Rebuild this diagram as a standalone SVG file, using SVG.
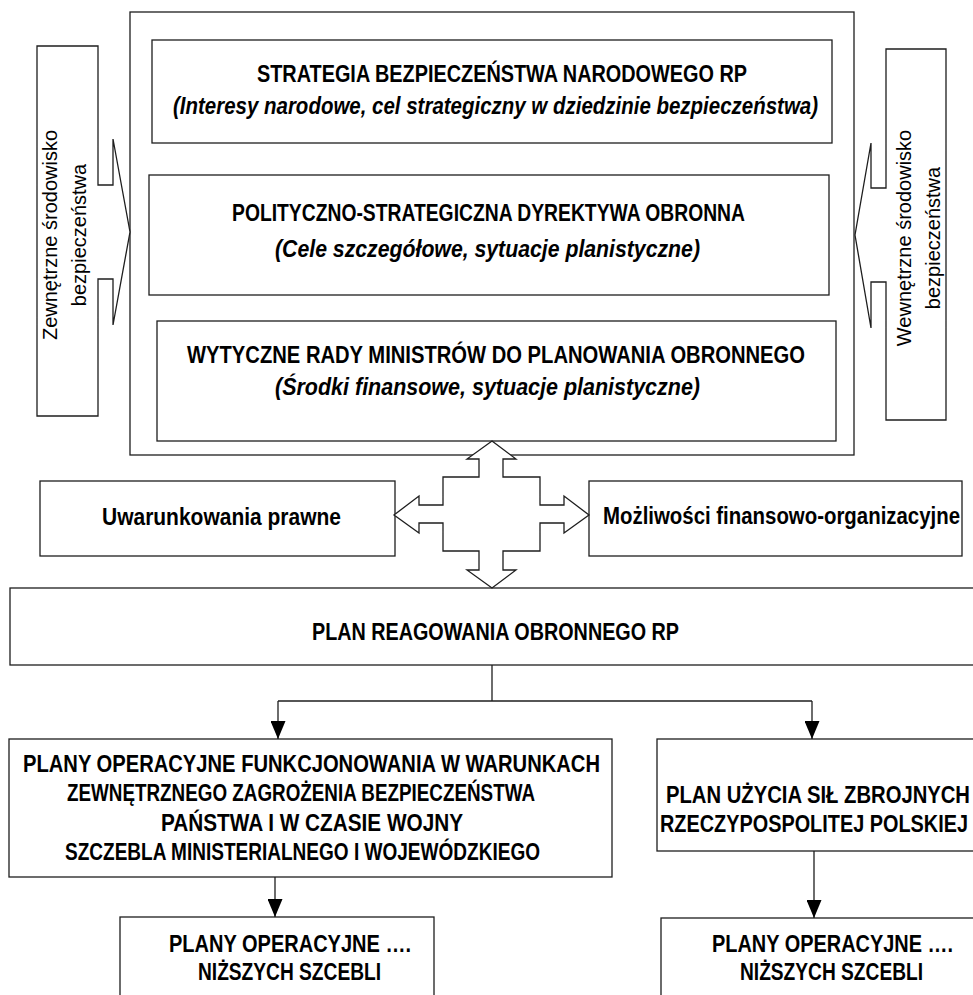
<svg xmlns="http://www.w3.org/2000/svg" width="973" height="995" viewBox="0 0 973 995">
<defs>
<style>
.b{fill:#fff;stroke:#1e1e1e;stroke-width:1.3}
.c{fill:none;stroke:#1e1e1e;stroke-width:1.3}
.t{font-family:"Liberation Sans",Arial,sans-serif;font-weight:bold;font-size:23px;fill:#000}
.i{font-style:italic}
.s{font-family:"Liberation Sans",Arial,sans-serif;font-size:20px;fill:#000;text-anchor:middle}
</style>
<marker id="ah" viewBox="0 0 18 15" refX="18" refY="7.5" markerWidth="18" markerHeight="15" markerUnits="userSpaceOnUse" orient="auto">
<path d="M0,0 L18,7.5 L0,15 Z" fill="#000"/>
</marker>
</defs>
<rect width="973" height="995" fill="#fff"/>

<g id="outer"><rect class="b" x="130" y="12" width="724" height="443"/></g>

<g id="strategia">
<rect class="b" x="152" y="40" width="680" height="103"/>
<text class="t" x="257" y="82" textLength="490" lengthAdjust="spacingAndGlyphs">STRATEGIA BEZPIECZEŃSTWA NARODOWEGO RP</text>
<text class="t i" x="173" y="114" textLength="645" lengthAdjust="spacingAndGlyphs">(Interesy narodowe, cel strategiczny w dziedzinie bezpieczeństwa)</text>
</g>

<g id="dyrektywa">
<rect class="b" x="149" y="175" width="680" height="120"/>
<text class="t" x="232" y="221" textLength="513" lengthAdjust="spacingAndGlyphs">POLITYCZNO-STRATEGICZNA DYREKTYWA OBRONNA</text>
<text class="t i" x="275" y="257" textLength="425" lengthAdjust="spacingAndGlyphs">(Cele szczegółowe, sytuacje planistyczne)</text>
</g>

<g id="wytyczne">
<rect class="b" x="157" y="321" width="679" height="120"/>
<text class="t" x="187" y="363" textLength="618" lengthAdjust="spacingAndGlyphs">WYTYCZNE RADY MINISTRÓW DO PLANOWANIA OBRONNEGO</text>
<text class="t i" x="275" y="395" textLength="425" lengthAdjust="spacingAndGlyphs">(Środki finansowe, sytuacje planistyczne)</text>
</g>

<g id="zewnetrzne">
<path class="b" d="M37,46 H98 V185 H113 V139 L130,232 L113,325 V279 H98 V416 H37 Z"/>
<text class="s" transform="translate(57,235) rotate(-90)">Zewnętrzne środowisko</text>
<text class="s" transform="translate(86,235) rotate(-90)">bezpieczeństwa</text>
</g>

<g id="wewnetrzne">
<path class="b" d="M946,49 H886 V188 H871 V143 L855,235 L871,328 V282 H886 V420 H946 Z"/>
<text class="s" transform="translate(911,238) rotate(-90)">Wewnętrzne środowisko</text>
<text class="s" transform="translate(940,238) rotate(-90)">bezpieczeństwa</text>
</g>

<g id="uwarunkowania">
<rect class="b" x="40" y="481" width="355" height="75"/>
<text class="t" x="102" y="525" textLength="239" lengthAdjust="spacingAndGlyphs">Uwarunkowania prawne</text>
</g>

<g id="mozliwosci">
<rect class="b" x="589" y="481" width="373" height="75"/>
<text class="t" x="603" y="524" textLength="357" lengthAdjust="spacingAndGlyphs">Możliwości finansowo-organizacyjne</text>
</g>

<g id="plan-reagowania">
<rect class="b" x="10" y="588" width="975" height="77"/>
<text class="t" x="312" y="640" textLength="367" lengthAdjust="spacingAndGlyphs">PLAN REAGOWANIA OBRONNEGO RP</text>
</g>

<g id="plany-operacyjne">
<rect class="b" x="9" y="739" width="603" height="138"/>
<text class="t" x="23" y="772" textLength="577" lengthAdjust="spacingAndGlyphs">PLANY OPERACYJNE FUNKCJONOWANIA W WARUNKACH</text>
<text class="t" x="67" y="801" textLength="468" lengthAdjust="spacingAndGlyphs">ZEWNĘTRZNEGO ZAGROŻENIA BEZPIECZEŃSTWA</text>
<text class="t" x="161" y="831" textLength="302" lengthAdjust="spacingAndGlyphs">PAŃSTWA I W CZASIE WOJNY</text>
<text class="t" x="65" y="860" textLength="475" lengthAdjust="spacingAndGlyphs">SZCZEBLA MINISTERIALNEGO I WOJEWÓDZKIEGO</text>
</g>

<g id="plan-uzycia">
<rect class="b" x="657" y="739" width="330" height="112"/>
<text class="t" x="666" y="803" textLength="304" lengthAdjust="spacingAndGlyphs">PLAN UŻYCIA SIŁ ZBROJNYCH</text>
<text class="t" x="660" y="832" textLength="308" lengthAdjust="spacingAndGlyphs">RZECZYPOSPOLITEJ POLSKIEJ</text>
</g>

<g id="nizsze-lewe">
<rect class="b" x="120" y="917" width="314" height="90"/>
<text class="t" x="169" y="952" textLength="242" lengthAdjust="spacingAndGlyphs">PLANY OPERACYJNE ….</text>
<text class="t" x="198" y="980" textLength="183" lengthAdjust="spacingAndGlyphs">NIŻSZYCH SZCEBLI</text>
</g>

<g id="nizsze-prawe">
<rect class="b" x="661" y="918" width="330" height="90"/>
<text class="t" x="712" y="952" textLength="241" lengthAdjust="spacingAndGlyphs">PLANY OPERACYJNE ….</text>
<text class="t" x="740" y="980" textLength="183" lengthAdjust="spacingAndGlyphs">NIŻSZYCH SZCEBLI</text>
</g>

<g id="connectors">
<path class="b" d="M492,441 L516,459 H503 V477 H540 V505 H564 V496 L589,515 L564,533 V523 H540 V551 H503 V570 H516 L492,588 L467,570 H479 V551 H443 V523 H419 V533 L394,515 L419,496 V505 H443 V477 H479 V459 H467 Z"/>
<path class="c" d="M492,665 V701"/>
<path class="c" d="M278,701 H812"/>
<path class="c" d="M278,701 V739" marker-end="url(#ah)"/>
<path class="c" d="M812,701 V739" marker-end="url(#ah)"/>
<path class="c" d="M275,877 V917" marker-end="url(#ah)"/>
<path class="c" d="M814,851 V918" marker-end="url(#ah)"/>
</g>
</svg>
